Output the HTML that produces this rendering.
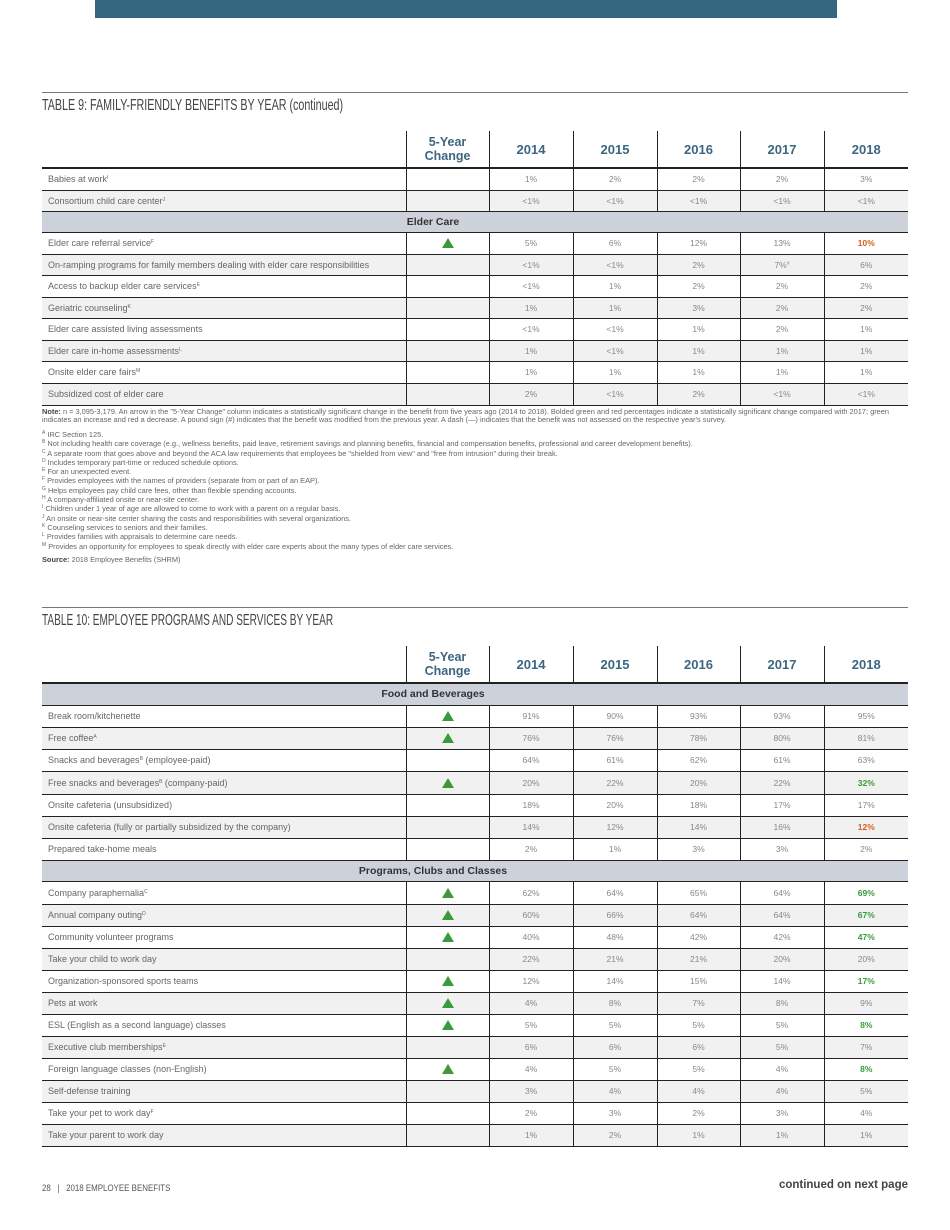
<!DOCTYPE html>
<html><head><meta charset="utf-8"><style>
*{margin:0;padding:0;box-sizing:border-box}
body{width:950px;height:1230px;background:#fff;position:relative;font-family:"Liberation Sans",sans-serif;color:#666;overflow:hidden}
.bar{position:absolute;left:95px;top:0;width:742px;height:18px;background:#356780}
.hr{position:absolute;left:42px;width:866px;height:1px;background:#777}
.title{position:absolute;left:42px;font-size:16px;color:#444;transform:scaleX(0.67);transform-origin:0 0;white-space:nowrap}
table{position:absolute;left:42px;width:866px;border-collapse:collapse;table-layout:fixed}
td{font-size:8.5px;color:#888;text-align:center;border-bottom:1px solid #222;border-left:1px solid #222;padding:0;white-space:nowrap}
td:first-child{border-left:none;text-align:left;padding-left:6px;color:#666;font-size:9px}
tr.g td{background:#f1f1f1}
tr.h td{border-bottom:2px solid #222;color:#3d6680;font-weight:bold;font-size:13px;background:#fff}
tr.h td.c{font-size:12.5px;line-height:14px}
tr.s td{background:#cdd2da;color:#333;font-weight:bold;font-size:10.5px;text-align:center;padding:0 84px 0 0;border-left:none}
.up{display:inline-block;width:0;height:0;border-left:6px solid transparent;border-right:6px solid transparent;border-bottom:10px solid #3a9a3a;vertical-align:middle}
.gr{color:#3a9a3a;font-weight:bold}
.or{color:#d2601a;font-weight:bold}
sup{font-size:5px;vertical-align:baseline;position:relative;top:-3px;line-height:0}
.notes{position:absolute;left:42px;top:408px;width:900px;font-size:7.4px;color:#666;line-height:7.5px;white-space:nowrap}
.fn{font-size:7.4px;line-height:9.3px}
.notes b{color:#444}
.foot{position:absolute;top:1183px;font-size:9px}
</style></head><body>
<div class="bar"></div>
<div class="hr" style="top:92px"></div>
<div class="title" style="top:97px">TABLE 9: FAMILY-FRIENDLY BENEFITS BY YEAR (continued)</div>
<table style="top:131px">
<colgroup><col style="width:364px"><col style="width:83px"><col style="width:84px"><col style="width:84px"><col style="width:83px"><col style="width:84px"><col style="width:84px"></colgroup>
<tr class="h" style="height:37px"><td></td><td class="c">5-Year<br>Change</td><td>2014</td><td>2015</td><td>2016</td><td>2017</td><td>2018</td></tr>
<tr style="height:22px"><td>Babies at work<sup>I</sup></td><td></td><td>1%</td><td>2%</td><td>2%</td><td>2%</td><td>3%</td></tr>
<tr class="g" style="height:21px"><td>Consortium child care center<sup>J</sup></td><td></td><td>&lt;1%</td><td>&lt;1%</td><td>&lt;1%</td><td>&lt;1%</td><td>&lt;1%</td></tr>
<tr class="s" style="height:21px"><td colspan="7">Elder Care</td></tr>
<tr style="height:22px"><td>Elder care referral service<sup>F</sup></td><td><span class="up"></span></td><td>5%</td><td>6%</td><td>12%</td><td>13%</td><td class="or">10%</td></tr>
<tr class="g" style="height:21px"><td>On-ramping programs for family members dealing with elder care responsibilities</td><td></td><td>&lt;1%</td><td>&lt;1%</td><td>2%</td><td>7%<sup>#</sup></td><td>6%</td></tr>
<tr style="height:22px"><td>Access to backup elder care services<sup>E</sup></td><td></td><td>&lt;1%</td><td>1%</td><td>2%</td><td>2%</td><td>2%</td></tr>
<tr class="g" style="height:21px"><td>Geriatric counseling<sup>K</sup></td><td></td><td>1%</td><td>1%</td><td>3%</td><td>2%</td><td>2%</td></tr>
<tr style="height:22px"><td>Elder care assisted living assessments</td><td></td><td>&lt;1%</td><td>&lt;1%</td><td>1%</td><td>2%</td><td>1%</td></tr>
<tr class="g" style="height:21px"><td>Elder care in-home assessments<sup>L</sup></td><td></td><td>1%</td><td>&lt;1%</td><td>1%</td><td>1%</td><td>1%</td></tr>
<tr style="height:22px"><td>Onsite elder care fairs<sup>M</sup></td><td></td><td>1%</td><td>1%</td><td>1%</td><td>1%</td><td>1%</td></tr>
<tr class="g" style="height:22px"><td>Subsidized cost of elder care</td><td></td><td>2%</td><td>&lt;1%</td><td>2%</td><td>&lt;1%</td><td>&lt;1%</td></tr>
</table>
<div class="notes">
<b>Note:</b> n = 3,095-3,179. An arrow in the "5-Year Change" column indicates a statistically significant change in the benefit from five years ago (2014 to 2018). Bolded green and red percentages indicate a statistically significant change compared with 2017; green<br>
indicates an increase and red a decrease. A pound sign (#) indicates that the benefit was modified from the previous year. A dash (—) indicates that the benefit was not assessed on the respective year's survey.<br>
<div class="fn" style="margin-top:7px">
<sup>A</sup> IRC Section 125.<br>
<sup>B</sup> Not including health care coverage (e.g., wellness benefits, paid leave, retirement savings and planning benefits, financial and compensation benefits, professional and career development benefits).<br>
<sup>C</sup> A separate room that goes above and beyond the ACA law requirements that employees be "shielded from view" and "free from intrusion" during their break.<br>
<sup>D</sup> Includes temporary part-time or reduced schedule options.<br>
<sup>E</sup> For an unexpected event.<br>
<sup>F</sup> Provides employees with the names of providers (separate from or part of an EAP).<br>
<sup>G</sup> Helps employees pay child care fees, other than flexible spending accounts.<br>
<sup>H</sup> A company-affiliated onsite or near-site center.<br>
<sup>I</sup> Children under 1 year of age are allowed to come to work with a parent on a regular basis.<br>
<sup>J</sup> An onsite or near-site center sharing the costs and responsibilities with several organizations.<br>
<sup>K</sup> Counseling services to seniors and their families.<br>
<sup>L</sup> Provides families with appraisals to determine care needs.<br>
<sup>M</sup> Provides an opportunity for employees to speak directly with elder care experts about the many types of elder care services.<br>
<div style="height:4px"></div>
<b>Source:</b> 2018 Employee Benefits (SHRM)
</div>
</div>

<div class="hr" style="top:607px"></div>
<div class="title" style="top:612px;transform:scaleX(0.63)">TABLE 10: EMPLOYEE PROGRAMS AND SERVICES BY YEAR</div>
<table style="top:646px">
<colgroup><col style="width:364px"><col style="width:83px"><col style="width:84px"><col style="width:84px"><col style="width:83px"><col style="width:84px"><col style="width:84px"></colgroup>
<tr class="h" style="height:37px"><td></td><td class="c">5-Year<br>Change</td><td>2014</td><td>2015</td><td>2016</td><td>2017</td><td>2018</td></tr>
<tr class="s" style="height:22px"><td colspan="7">Food and Beverages</td></tr>
<tr style="height:22px"><td>Break room/kitchenette</td><td><span class="up"></span></td><td>91%</td><td>90%</td><td>93%</td><td>93%</td><td>95%</td></tr>
<tr class="g" style="height:22px"><td>Free coffee<sup>A</sup></td><td><span class="up"></span></td><td>76%</td><td>76%</td><td>78%</td><td>80%</td><td>81%</td></tr>
<tr style="height:22px"><td>Snacks and beverages<sup>B</sup> (employee-paid)</td><td></td><td>64%</td><td>61%</td><td>62%</td><td>61%</td><td>63%</td></tr>
<tr class="g" style="height:23px"><td>Free snacks and beverages<sup>B</sup> (company-paid)</td><td><span class="up"></span></td><td>20%</td><td>22%</td><td>20%</td><td>22%</td><td class="gr">32%</td></tr>
<tr style="height:22px"><td>Onsite cafeteria (unsubsidized)</td><td></td><td>18%</td><td>20%</td><td>18%</td><td>17%</td><td>17%</td></tr>
<tr class="g" style="height:22px"><td>Onsite cafeteria (fully or partially subsidized by the company)</td><td></td><td>14%</td><td>12%</td><td>14%</td><td>16%</td><td class="or">12%</td></tr>
<tr style="height:22px"><td>Prepared take-home meals</td><td></td><td>2%</td><td>1%</td><td>3%</td><td>3%</td><td>2%</td></tr>
<tr class="s" style="height:21px"><td colspan="7">Programs, Clubs and Classes</td></tr>
<tr style="height:23px"><td>Company paraphernalia<sup>C</sup></td><td><span class="up"></span></td><td>62%</td><td>64%</td><td>65%</td><td>64%</td><td class="gr">69%</td></tr>
<tr class="g" style="height:22px"><td>Annual company outing<sup>D</sup></td><td><span class="up"></span></td><td>60%</td><td>66%</td><td>64%</td><td>64%</td><td class="gr">67%</td></tr>
<tr style="height:22px"><td>Community volunteer programs</td><td><span class="up"></span></td><td>40%</td><td>48%</td><td>42%</td><td>42%</td><td class="gr">47%</td></tr>
<tr class="g" style="height:22px"><td>Take your child to work day</td><td></td><td>22%</td><td>21%</td><td>21%</td><td>20%</td><td>20%</td></tr>
<tr style="height:22px"><td>Organization-sponsored sports teams</td><td><span class="up"></span></td><td>12%</td><td>14%</td><td>15%</td><td>14%</td><td class="gr">17%</td></tr>
<tr class="g" style="height:22px"><td>Pets at work</td><td><span class="up"></span></td><td>4%</td><td>8%</td><td>7%</td><td>8%</td><td>9%</td></tr>
<tr style="height:22px"><td>ESL (English as a second language) classes</td><td><span class="up"></span></td><td>5%</td><td>5%</td><td>5%</td><td>5%</td><td class="gr">8%</td></tr>
<tr class="g" style="height:22px"><td>Executive club memberships<sup>E</sup></td><td></td><td>6%</td><td>6%</td><td>6%</td><td>5%</td><td>7%</td></tr>
<tr style="height:22px"><td>Foreign language classes (non-English)</td><td><span class="up"></span></td><td>4%</td><td>5%</td><td>5%</td><td>4%</td><td class="gr">8%</td></tr>
<tr class="g" style="height:22px"><td>Self-defense training</td><td></td><td>3%</td><td>4%</td><td>4%</td><td>4%</td><td>5%</td></tr>
<tr style="height:22px"><td>Take your pet to work day<sup>F</sup></td><td></td><td>2%</td><td>3%</td><td>2%</td><td>3%</td><td>4%</td></tr>
<tr class="g" style="height:22px"><td>Take your parent to work day</td><td></td><td>1%</td><td>2%</td><td>1%</td><td>1%</td><td>1%</td></tr>
</table>
<div class="foot" style="left:42px;color:#555;transform:scaleX(0.88);transform-origin:0 0;white-space:nowrap">28 &nbsp;&nbsp;|&nbsp;&nbsp; 2018 EMPLOYEE BENEFITS</div>
<div class="foot" style="right:42px;top:1179px;font-size:11.5px;font-weight:bold;color:#444">continued on next page</div>
</body></html>
